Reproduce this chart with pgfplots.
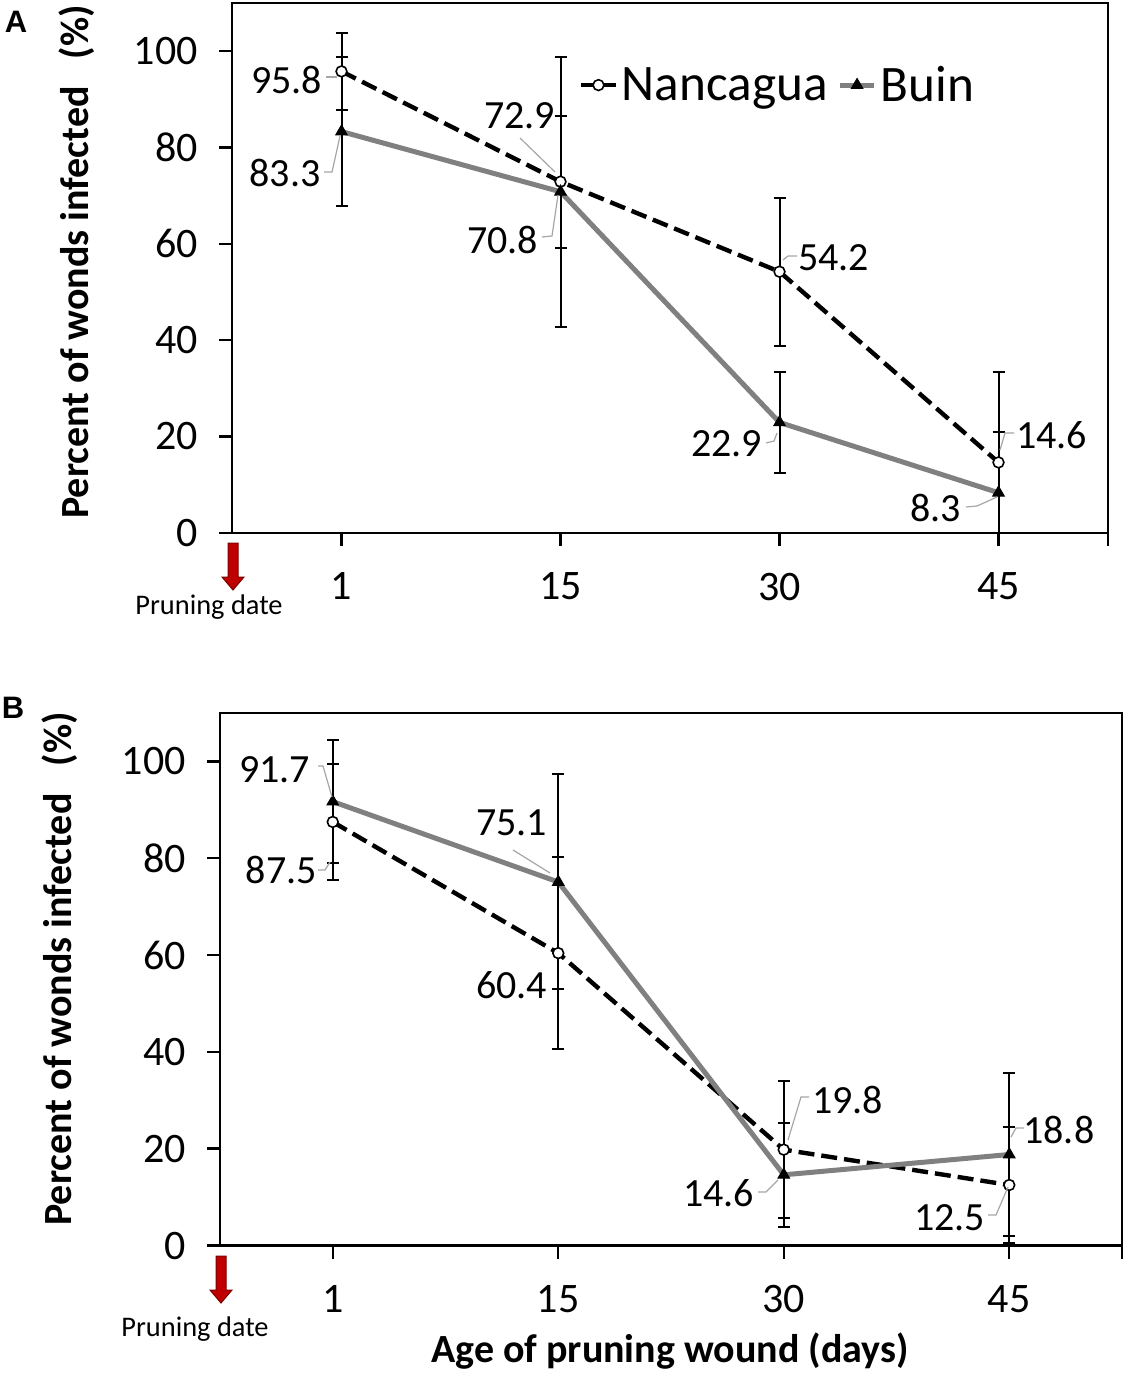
\documentclass[border=0pt]{standalone}
\usepackage{fontspec}
\setmainfont{Carlito}
\newfontfamily\arialfont{Liberation Sans}
\usepackage{pgfplots}
\pgfplotsset{compat=1.18}
\definecolor{buin}{HTML}{808080}
\definecolor{arrowred}{HTML}{C00000}
\definecolor{arrowdark}{HTML}{7A0000}
\definecolor{leader}{HTML}{A6A6A6}

\pgfplotstableread{
x y e
1 95.8 8.0
2 72.9 13.7
3 54.2 15.4
4 14.6 18.8
}\nancA
\pgfplotstableread{
x y e
1 83.3 15.5
2 70.8 28.0
3 22.9 10.5
4 8.3 12.7
}\buinA
\pgfplotstableread{
x y e
1 87.5 12.0
2 60.4 19.8
3 19.8 14.1
4 12.5 11.9
}\nancB
\pgfplotstableread{
x y e
1 91.7 12.7
2 75.1 22.2
3 14.6 10.7
4 18.8 16.8
}\buinB

\tikzset{dl/.style={font=\fontsize{20}{22}\selectfont, inner sep=0pt}}
\pgfplotsset{
  panel/.style={
    scale only axis,
    xmin=0.5, xmax=4.5, ymin=0, ymax=110,
    xtick={1,2,3,4,4.5}, xticklabels={1,15,30,45,},
    ytick={0,20,40,60,80,100},
    xtick pos=bottom, ytick pos=left,
    tick align=outside, major tick length=6.5pt,
    every axis/.append style={line width=1.2pt},
    tick style={black, line width=1.2pt},
    tick label style={font=\fontsize{21}{24}\selectfont},
    /pgf/number format/assume math mode=true,
    yticklabel style={anchor=east, inner sep=0pt, xshift=-10pt},
    xticklabel style={anchor=north, inner sep=0pt, yshift=-13pt},
    clip=true,
  },
  nanc/.style={black, line width=2.2pt, dash pattern=on 8pt off 3.5pt,
    mark=*, mark size=2.7pt, mark options={solid, fill=white, draw=black, line width=0.8pt},
    error bars/.cd, y dir=both, y explicit,
    error bar style={solid, black, line width=1pt},
    error mark options={rotate=90, black, solid, mark size=3pt, line width=1pt}},
  buinst/.style={buin, line width=2.5pt, solid,
    mark=triangle*, mark size=3.3pt, mark options={black, fill=black, line width=0.5pt},
    error bars/.cd, y dir=both, y explicit,
    error bar style={solid, black, line width=1pt},
    error mark options={rotate=90, black, solid, mark size=3pt, line width=1pt}},
}

\begin{document}
\begin{tikzpicture}
\path[use as bounding box] (0,0) rectangle (563pt,-687pt);

% ---------------- Panel A ----------------
\begin{axis}[panel, at={(116pt,-266.35pt)}, anchor=south west,
  width=438pt, height=264.85pt,
  legend style={draw=none, fill=none, at={(rel axis cs:0.395,0.845)}, anchor=west,
    font=\fontsize{25.6}{28}\selectfont, inner sep=0pt,
    /tikz/every even column/.append style={column sep=3pt}},
  legend columns=2,
]
\addplot[nanc] table[x=x, y=y, y error=e] {\nancA};
\addlegendentry{Nancagua}
\addplot[buinst] table[x=x, y=y, y error=e] {\buinA};
\addlegendentry{Buin}
\node[dl] at (axis cs:0.749,94.1) {95.8};
\node[dl] at (axis cs:0.742,74.8) {83.3};
\node[dl] at (axis cs:1.813,86.5) {72.9};
\node[dl] at (axis cs:1.735,60.8) {70.8};
\node[dl] at (axis cs:3.247,57.1) {54.2};
\node[dl] at (axis cs:2.758,18.4) {22.9};
\node[dl] at (axis cs:4.242,20.3) {14.6};
\node[dl] at (axis cs:3.712,5.1) {8.3};
\end{axis}

% ---------------- Panel B ----------------
\begin{axis}[panel, at={(110pt,-622.75pt)}, anchor=south west,
  width=451pt, height=266.25pt,
]
\addplot[nanc] table[x=x, y=y, y error=e] {\nancB};
\addplot[buinst] table[x=x, y=y, y error=e] {\buinB};
\node[dl] at (axis cs:0.743,98.2) {91.7};
\node[dl] at (axis cs:0.772,77.6) {87.5};
\node[dl] at (axis cs:1.794,87.3) {75.1};
\node[dl] at (axis cs:1.794,53.8) {60.4};
\node[dl] at (axis cs:3.284,30.1) {19.8};
\node[dl] at (axis cs:2.712,10.8) {14.6};
\node[dl] at (axis cs:4.220,23.9) {18.8};
\node[dl] at (axis cs:3.736,5.7) {12.5};
\end{axis}

% ---------------- annotations in pixel coordinates ----------------
\begin{scope}[x=0.5pt, y=-0.5pt]
  % leader lines A
  \draw[leader, line width=0.6pt] (324,172) -- (332,172) -- (340,136);
  \draw[leader, line width=0.6pt] (326,77) -- (337,77);
  \draw[leader, line width=0.6pt] (520,138) -- (555,172);
  \draw[leader, line width=0.6pt] (542,237) -- (552,236) -- (558,195);
  \draw[leader, line width=0.6pt] (783,260) -- (788,256) -- (797,256);
  \draw[leader, line width=0.6pt] (766,443) -- (774,441) -- (777,433);
  \draw[leader, line width=0.6pt] (1000,450) -- (1005,433) -- (1014,433);
  \draw[leader, line width=0.6pt] (966,507) -- (977,506) -- (997,497);
  % leader lines B
  \draw[leader, line width=0.6pt] (318,766) -- (323,766) -- (332,797);
  \draw[leader, line width=0.6pt] (318,870) -- (325,870) -- (330,862);
  \draw[leader, line width=0.6pt] (513,850) -- (550,873);
  \draw[leader, line width=0.6pt] (809,1097) -- (801,1097) -- (788,1140);
  \draw[leader, line width=0.6pt] (758,1192) -- (766,1192) -- (778,1180);
  \draw[leader, line width=0.6pt] (1024,1128) -- (1016,1128) -- (1011,1137);
  \draw[leader, line width=0.6pt] (988,1215) -- (996,1215) -- (1008,1187);
  % panel letters
  \node[font=\arialfont\bfseries\fontsize{15.5}{17}\selectfont] at (16,22) {A};
  \node[font=\arialfont\bfseries\fontsize{15.5}{17}\selectfont] at (13,708) {B};
  % y labels
  \node[rotate=90, font=\bfseries\fontsize{20}{24}\selectfont] at (77,262) {Percent of wonds infected\hspace{0.45em} (\%)};
  \node[rotate=90, font=\bfseries\fontsize{20}{24}\selectfont] at (60,969) {Percent of wonds infected\hspace{0.45em} (\%)};
  % x label
  \node[font=\bfseries\fontsize{20}{24}\selectfont] at (670,1351) {Age of pruning wound (days)};
  % pruning arrows
  \filldraw[fill=arrowred, draw=arrowdark, line width=0.5pt]
    (228,543) -- (238,543) -- (238,577) -- (244,577) -- (233,590) -- (222,577) -- (228,577) -- cycle;
  \node[font=\fontsize{14.2}{16}\selectfont] at (209,607) {Pruning date};
  \filldraw[fill=arrowred, draw=arrowdark, line width=0.5pt]
    (216,1256) -- (226,1256) -- (226,1290) -- (232,1290) -- (221,1303) -- (210,1290) -- (216,1290) -- cycle;
  \node[font=\fontsize{14.2}{16}\selectfont] at (195,1329) {Pruning date};
\end{scope}
\end{tikzpicture}
\end{document}
